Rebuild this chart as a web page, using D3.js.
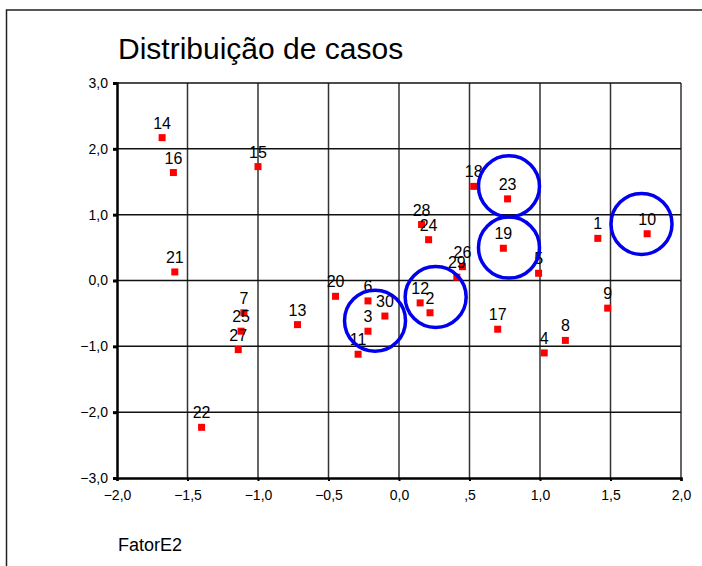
<!DOCTYPE html>
<html>
<head>
<meta charset="utf-8">
<script src="https://cdn.jsdelivr.net/npm/d3@7"></script>
<style>
  body { margin: 0; background: #fff; }
  svg text { font-family: "Liberation Sans", Arial, sans-serif; }
</style>
</head>
<body>
<div id="chart"></div>
<script>
let width = 702;
let height = 566;

let margin = { top: 83, right: 21, bottom: 88, left: 117 };

// casos (rótulos) e coordenadas
let caseIds = [1, 2, 3, 4, 5, 6, 7, 8, 9, 10,
  11, 12, 13, 14, 15, 16, 17, 18, 19, 20,
  21, 22, 23, 24, 25, 26, 27, 28, 29, 30];
let xValues = [1.41, 0.22, -0.22, 1.03, 0.99, -0.22, -1.10, 1.18, 1.48, 1.76,
  -0.29, 0.15, -0.72, -1.68, -1.00, -1.60, 0.70, 0.53, 0.74, -0.45,
  -1.59, -1.40, 0.77, 0.21, -1.12, 0.45, -1.14, 0.16, 0.41, -0.10];
let yValues = [0.64, -0.49, -0.77, -1.10, 0.11, -0.31, -0.49, -0.91, -0.42, 0.71,
  -1.12, -0.34, -0.67, 2.17, 1.73, 1.64, -0.74, 1.43, 0.49, -0.24,
  0.13, -2.23, 1.24, 0.62, -0.77, 0.21, -1.05, 0.85, 0.05, -0.54];

// círculos de destaque (centro em unidades do gráfico)
let highlightX = [0.78, 0.78, 1.72, 0.26, -0.17];
let highlightY = [1.43, 0.50, 0.86, -0.25, -0.61];

let xTicks = [-2, -1.5, -1, -0.5, 0, 0.5, 1, 1.5, 2];
let yTicks = [-3, -2, -1, 0, 1, 2, 3];

let title = 'Distribuição de casos';
let xLabel = 'FatorE2';

let fmt = v => {
  if (v === 0) return '0,0';
  return d3.format('.1f')(v).replace('.', ',').replace(/^(-?)0,/, '$1,');
};

let x = d3.scaleLinear()
  .domain([-2, 2])
  .range([margin.left, width - margin.right]);

let y = d3.scaleLinear()
  .domain([-3, 3])
  .range([height - margin.bottom, margin.top]);

const svg = d3.select('#chart').append('svg')
  .attr('width', width)
  .attr('height', height);

// moldura (só topo e esquerda aparecem)
svg.append('path')
  .attr('d', `M6.5,${height} V10 H${width}`)
  .attr('fill', 'none')
  .attr('stroke', '#222')
  .attr('stroke-width', 1.5);

svg.append('text')
  .attr('x', 118)
  .attr('y', 59)
  .attr('font-size', 30)
  .attr('fill', '#000')
  .text(title);

// grade
svg.append('g')
  .selectAll('line')
  .data(xTicks.slice(1))
  .join('line')
  .attr('x1', d => x(d)).attr('x2', d => x(d))
  .attr('y1', y(-3)).attr('y2', y(3))
  .attr('stroke', '#333')
  .attr('stroke-width', 1.5);

svg.append('g')
  .selectAll('line')
  .data(yTicks.slice(1))
  .join('line')
  .attr('x1', x(-2)).attr('x2', x(2))
  .attr('y1', d => y(d)).attr('y2', d => y(d))
  .attr('stroke', '#111')
  .attr('stroke-width', 1.5);

// eixos
let xAxis = g => g
  .attr('transform', `translate(0, ${y(-3)})`)
  .call(d3.axisBottom(x).tickValues(xTicks).tickFormat(fmt).tickSizeOuter(0).tickSize(3).tickPadding(9))
  .call(g => g.select('.domain').attr('stroke-width', 2.5))
  .call(g => g.selectAll('.tick line').attr('stroke-width', 2))
  .call(g => g.selectAll('.tick text').attr('font-size', 14).attr('fill', '#000')
    .attr('font-family', '"Liberation Sans", Arial, sans-serif'));

let yAxis = g => g
  .attr('transform', `translate(${x(-2)}, 0)`)
  .call(d3.axisLeft(y).tickValues(yTicks).tickFormat(fmt).tickSizeOuter(0).tickSize(4).tickPadding(5))
  .call(g => g.select('.domain').attr('stroke-width', 2.5))
  .call(g => g.selectAll('.tick line').attr('stroke-width', 3))
  .call(g => g.selectAll('.tick text').attr('font-size', 14).attr('fill', '#000')
    .attr('font-family', '"Liberation Sans", Arial, sans-serif'));

svg.append('g').call(xAxis);
svg.append('g').call(yAxis);

let points = caseIds.map((id, i) => ({ id, fx: xValues[i], fy: yValues[i] }));

let s = 7;
svg.append('g')
  .selectAll('rect')
  .data(points)
  .join('rect')
  .attr('x', d => x(d.fx) - s / 2)
  .attr('y', d => y(d.fy) - s / 2)
  .attr('width', s)
  .attr('height', s)
  .attr('fill', '#ff0000');

svg.append('g')
  .selectAll('text')
  .data(points)
  .join('text')
  .attr('x', d => x(d.fx))
  .attr('y', d => y(d.fy) - 9)
  .attr('text-anchor', 'middle')
  .attr('font-size', 16)
  .attr('fill', '#000')
  .text(d => d.id);

svg.append('g')
  .selectAll('circle')
  .data(highlightX.map((v, i) => [v, highlightY[i]]))
  .join('circle')
  .attr('cx', d => x(d[0]))
  .attr('cy', d => y(d[1]))
  .attr('r', 30.5)
  .attr('fill', 'none')
  .attr('stroke', '#0000ee')
  .attr('stroke-width', 3.5);

svg.append('text')
  .attr('x', 118)
  .attr('y', 551)
  .attr('font-size', 18)
  .attr('fill', '#000')
  .text(xLabel);
</script>
</body>
</html>
